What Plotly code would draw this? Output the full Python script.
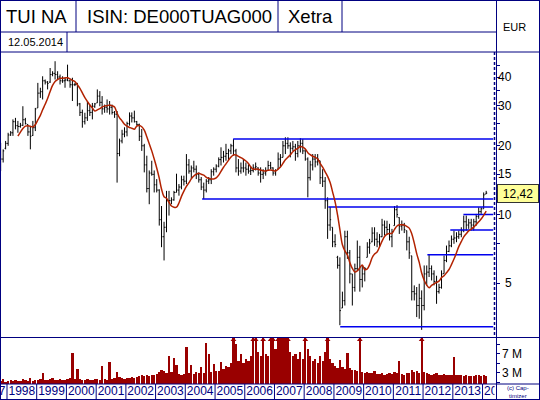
import math
import pandas as pd
import plotly.graph_objects as go

# ---------------- data (monthly bars, Oct 1997 .. Feb 2014) ----------------
FIRST_MONTH = "1997-10-01"

OPEN = [
    19.0, 17.5, 19.5,
    20.5, 22.3, 22.8, 25.5, 24.5, 24.3, 24.6, 26.0, 24.8, 23.0, 22.2, 24.0,
    29.3, 34.0, 34.5, 38.5, 38.0, 38.0, 41.0, 41.5, 41.0, 40.0, 38.5, 38.5,
    38.8, 38.5, 37.0, 37.0, 37.2, 30.5, 28.0, 25.5, 26.5, 28.5, 28.0, 29.8,
    30.8, 33.0, 31.0, 29.0, 29.5, 29.0, 29.5, 28.0, 27.5, 18.5, 21.0, 22.5,
    23.0, 25.0, 27.0, 26.5, 25.5, 24.8, 22.0, 20.0, 16.5, 13.0, 15.2, 15.0,
    13.5, 12.8, 9.5, 8.0, 8.8, 11.5, 11.5, 11.6, 12.5, 12.8, 13.2, 14.2,
    14.0, 16.5, 15.5, 16.0, 15.8, 15.0, 14.2, 13.2, 12.8, 14.0, 14.2, 15.4,
    15.8, 16.3, 17.4, 17.8, 18.0, 18.5, 19.0, 20.0, 19.0, 16.0, 15.5, 16.0,
    16.0, 15.8, 15.5, 15.6, 16.0, 16.0, 15.2, 15.0, 15.2, 15.6, 16.4, 16.0,
    15.2, 15.8, 17.5, 17.8, 20.0, 20.5, 20.0, 19.5, 19.8, 18.5, 20.0, 20.5,
    19.0, 17.5, 14.5, 16.5, 17.5, 17.0, 17.2, 14.5, 14.0, 11.5, 9.0, 8.8,
    7.6, 6.5, 6.0, 3.9, 4.2, 8.0, 6.8, 5.5, 4.8, 5.8, 6.5, 5.2,
    5.5, 6.5, 7.2, 7.6, 8.3, 7.8, 7.6, 8.0, 9.0, 8.8, 8.6, 8.0,
    8.95, 10.5, 9.7, 8.9, 9.0, 8.5, 7.6, 6.6, 4.6, 4.5, 4.0, 4.3,
    4.0, 5.5, 5.6, 5.8, 5.5, 5.1, 4.6, 4.8, 5.51, 6.3, 6.9, 7.3,
    7.8, 7.9, 8.0, 8.2, 8.5, 9.3, 9.0, 9.2, 9.0, 9.3, 9.8, 10.3,
    10.6, 12.3,
]
HIGH = [
    20.6, 19.3, 21.0,
    22.8, 23.2, 26.1, 26.5, 25.7, 25.2, 29.8, 26.5, 24.8, 24.4, 25.7, 29.3,
    37.7, 35.9, 40.3, 39.0, 38.4, 43.8, 42.4, 46.9, 42.4, 41.0, 40.3, 39.7,
    45.3, 39.0, 39.7, 37.7, 37.7, 30.8, 28.8, 27.9, 31.4, 30.3, 30.8, 30.8,
    35.3, 34.7, 33.0, 30.3, 31.9, 31.4, 30.3, 28.4, 28.4, 21.5, 23.5, 24.1,
    25.5, 28.0, 28.0, 28.5, 25.7, 25.0, 23.7, 20.4, 18.1, 15.6, 17.2, 15.6,
    14.3, 12.9, 10.9, 9.3, 12.7, 12.7, 11.9, 12.7, 15.1, 13.6, 14.8, 14.8,
    18.4, 17.5, 16.4, 17.2, 16.4, 15.3, 14.6, 13.8, 14.3, 14.6, 15.8, 16.1,
    16.6, 17.8, 19.7, 19.0, 20.4, 19.4, 20.4, 21.4, 19.4, 17.5, 16.9, 17.5,
    16.9, 16.6, 16.2, 16.6, 16.9, 16.1, 16.1, 15.8, 16.1, 17.2, 17.0, 16.1,
    15.8, 18.7, 18.4, 21.0, 21.8, 21.8, 20.7, 21.0, 20.4, 21.0, 21.6, 21.4,
    19.4, 17.8, 17.2, 18.4, 18.4, 18.4, 17.2, 15.8, 14.6, 11.9, 10.8, 8.8,
    8.2, 6.6, 6.5, 4.6, 8.5, 8.5, 7.0, 5.5, 6.1, 7.7, 7.3, 6.0,
    5.9, 7.57, 7.83, 8.8, 8.8, 8.37, 8.23, 9.58, 9.42, 9.4, 9.11, 8.66,
    10.9, 11.0, 9.73, 9.42, 9.2, 8.51, 8.0, 6.6, 4.9, 4.82, 4.98, 4.66,
    5.99, 5.99, 6.67, 5.99, 5.70, 5.4, 4.98, 5.70, 6.62, 7.32, 7.7, 8.1,
    8.5, 8.37, 8.51, 8.8, 9.9, 9.9, 9.58, 9.58, 9.58, 10.07, 10.76, 10.76,
    12.5, 12.7,
]
LOW = [
    15.5, 16.9, 19.3,
    20.0, 22.1, 22.1, 23.6, 22.8, 24.0, 24.4, 24.8, 22.1, 19.3, 22.1, 23.2,
    29.3, 32.4, 31.9, 37.1, 35.3, 37.7, 40.3, 39.0, 39.0, 37.1, 37.7, 35.9,
    38.4, 35.9, 31.4, 36.5, 29.8, 27.0, 24.0, 24.8, 25.7, 27.0, 26.1, 29.3,
    30.8, 29.8, 27.4, 27.9, 27.9, 27.4, 27.4, 26.5, 13.8, 18.0, 20.5, 21.8,
    22.0, 24.5, 25.3, 25.3, 24.5, 21.0, 19.0, 15.3, 12.5, 11.1, 14.8, 12.5,
    12.5, 8.95, 7.2, 6.3, 8.37, 9.9, 11.1, 11.5, 12.5, 12.1, 12.9, 13.4,
    13.6, 15.1, 14.3, 15.3, 14.3, 13.8, 12.8, 11.7, 12.5, 13.6, 13.6, 14.8,
    15.3, 16.1, 16.4, 16.9, 17.2, 17.2, 18.4, 18.1, 15.3, 14.8, 15.1, 15.3,
    14.8, 15.1, 14.9, 15.3, 15.6, 14.8, 13.8, 14.3, 14.8, 15.6, 15.8, 14.8,
    14.8, 15.8, 16.1, 17.8, 18.4, 19.4, 17.8, 19.0, 17.2, 17.8, 18.7, 18.4,
    17.2, 11.9, 14.1, 15.6, 16.1, 16.4, 13.6, 13.2, 10.6, 7.83, 8.5, 7.2,
    7.2, 5.8, 3.28, 3.9, 4.0, 6.4, 5.0, 4.0, 4.6, 5.7, 4.6, 4.8,
    5.1, 6.5, 6.74, 7.57, 7.3, 7.2, 7.2, 7.96, 8.1, 8.2, 7.7, 7.2,
    8.95, 9.7, 8.23, 8.51, 8.3, 6.97, 6.4, 4.21, 4.21, 3.56, 3.5, 3.13,
    3.81, 4.9, 5.33, 5.15, 4.9, 4.07, 4.51, 4.74, 5.51, 6.19, 6.85, 7.2,
    7.45, 7.57, 7.83, 7.96, 8.37, 8.5, 8.66, 8.51, 8.51, 8.95, 9.58, 10.07,
    10.6, 12.3,
]
CLOSE = [
    17.5, 19.0, 20.5,
    22.3, 22.8, 25.5, 24.5, 24.3, 24.6, 26.0, 25.0, 23.0, 22.0, 24.0, 29.0,
    34.0, 34.5, 38.5, 38.0, 37.5, 41.0, 41.5, 41.0, 40.0, 38.5, 38.5, 38.8,
    38.5, 37.0, 37.0, 37.2, 30.5, 28.0, 25.5, 26.5, 28.5, 28.0, 29.8, 30.5,
    33.0, 31.0, 29.0, 29.5, 29.0, 29.5, 28.0, 27.5, 18.5, 21.0, 22.5, 23.0,
    25.0, 27.0, 26.5, 25.5, 24.8, 22.0, 20.0, 16.5, 13.0, 15.2, 15.0, 13.5,
    12.8, 9.5, 8.0, 8.8, 11.5, 11.5, 11.6, 12.5, 12.8, 13.2, 14.2, 14.0,
    16.5, 15.5, 16.0, 15.8, 15.0, 14.2, 13.2, 12.8, 14.0, 14.2, 15.4, 15.8,
    16.3, 17.4, 17.8, 18.0, 18.5, 19.0, 20.0, 19.0, 16.0, 15.5, 16.0, 16.0,
    15.8, 15.5, 15.6, 16.0, 16.2, 15.2, 15.0, 15.2, 15.5, 16.4, 16.0, 15.2,
    15.6, 17.5, 17.8, 20.0, 20.5, 20.0, 19.5, 19.8, 18.5, 20.0, 20.5, 19.0,
    17.5, 14.5, 16.5, 17.5, 17.0, 17.5, 14.5, 14.0, 11.5, 9.0, 9.5, 7.6,
    7.4, 6.0, 3.8, 4.2, 8.0, 6.8, 5.5, 4.8, 5.8, 6.5, 5.2, 5.5,
    5.8, 7.2, 7.5, 8.3, 7.8, 7.6, 8.0, 9.0, 8.8, 8.6, 8.0, 8.4,
    10.5, 10.0, 8.9, 9.0, 8.6, 7.6, 6.8, 4.6, 4.5, 4.0, 4.3, 4.0,
    5.5, 5.6, 5.8, 5.5, 5.1, 4.6, 4.8, 5.5, 6.3, 6.9, 7.3, 7.8,
    7.9, 8.0, 8.2, 8.5, 9.3, 9.0, 9.2, 9.0, 9.3, 9.8, 10.3, 10.6,
    12.2, 12.42,
]
# volume in millions (12 = beyond the top of the panel)
VOLUME_M = [
    1.2, 1.6, 1.1, 1.3, 1.4, 1.2, 1.5, 1.3, 1.2, 1.6, 1.4, 1.3, 1.8, 1.3, 1.4,
    1.5, 1.6, 3.0, 1.5, 1.4, 1.6, 1.8, 1.5, 1.4, 1.6, 1.5, 1.5, 1.7, 1.8, 7.3,
    1.6, 3.8, 1.7, 1.5, 1.4, 1.6, 1.5, 1.4, 1.6, 1.7, 1.5, 4.4, 1.6, 1.5, 5.3,
    1.7, 1.8, 3.1, 2.0, 1.8, 1.7, 1.9, 1.8, 2.0, 1.9, 2.1, 2.3, 2.5, 2.2, 2.4,
    2.2, 2.6, 2.4, 2.8, 3.2, 3.6, 3.3, 3.0, 6.6, 3.2, 6.1, 4.6, 2.8, 2.6, 2.7,
    8.6, 3.0, 4.6, 2.8, 3.2, 2.9, 4.3, 3.0, 9.4, 7.0, 3.1, 4.9, 3.3, 3.4, 5.2,
    3.8, 4.5, 4.2, 5.0, 12, 9.1, 5.5, 7.0, 5.0, 6.0, 5.5, 6.5, 12, 12, 7.5,
    6.5, 12, 7.0, 6.5, 12, 12, 8.0, 12, 12, 12, 12, 12, 7.5, 6.5, 7.0,
    6.0, 7.5, 6.0, 12, 8.0, 6.5, 5.5, 6.0, 5.0, 6.5, 5.5, 7.5, 12, 6.0, 5.0,
    4.5, 4.0, 5.7, 4.2, 3.8, 7.3, 4.0, 3.6, 3.5, 3.4, 12, 3.2, 3.0, 3.2, 2.9,
    3.0, 3.4, 2.8, 2.7, 2.9, 2.6, 2.8, 3.0, 2.7, 3.1, 2.9, 5.4, 2.8, 2.6, 2.9,
    3.0, 3.6, 3.2, 3.4, 3.0, 12, 3.2, 2.9, 2.8, 2.6, 2.7, 2.9, 2.5, 2.6, 2.7,
    2.5, 2.6, 2.4, 6.4, 2.5, 2.4, 2.6, 2.3, 2.5, 2.3, 2.2, 2.3, 2.4, 2.6, 2.3, 2.5, 2.2,
]
MA_WINDOW = 8

LEVELS = [21.4, 11.7, 10.8, 10.0, 8.57, 6.67, 3.23]
LEVEL_START = ["2005-08-12", "2004-07-26", "2008-10-23", "2013-05-11",
               "2012-12-01", "2012-02-23", "2009-03-19"]
LEVEL_END = "2014-05-12"

PRICE_LABELS = [5, 10, 15, 20, 30, 40]
PRICE_TICKS = [5, 7.5, 10, 12, 15, 20, 25, 30, 35, 40, 45]
VOL_TICKS = [1, 3, 5, 7, 9]
VOL_LABELS = [3, 7]
YEARS = list(range(1997, 2015))
LAST_PRICE = 12.42

TITLE = "TUI NA"
ISIN = "ISIN: DE000TUAG000"
EXCHANGE = "Xetra"
DATE_TEXT = "12.05.2014"
CURRENCY = "EUR"

# ---------------- styling / geometry ----------------
W, H = 540, 400
NAVY = "#000080"
FONT = "Liberation Sans, Arial, sans-serif"
X_RANGE = ["1997-10-07", "2014-05-28"]


def px(x):
    return x / W


def py(y):
    return 1 - y / H


dates = pd.date_range(FIRST_MONTH, periods=len(CLOSE), freq="MS") + pd.Timedelta(days=14)
ma = pd.Series(CLOSE).rolling(MA_WINDOW).mean()
vol_top = 10.53

fig = go.Figure()

# volume
fig.add_trace(go.Bar(x=dates, y=VOLUME_M, marker=dict(color="#990000", line=dict(width=0)),
                     xaxis="x", yaxis="y2", hoverinfo="skip"))
over = [d for d, v in zip(dates, VOLUME_M) if v > vol_top]
fig.add_trace(go.Scatter(x=over, y=[10.05] * len(over), mode="markers",
                         marker=dict(symbol="triangle-up", size=5, color="#990000"),
                         xaxis="x", yaxis="y2", hoverinfo="skip"))

# horizontal levels
for lv, st in zip(LEVELS, LEVEL_START):
    fig.add_trace(go.Scatter(x=[st, LEVEL_END], y=[lv, lv], mode="lines",
                             line=dict(color="#0000ee", width=1.5),
                             xaxis="x", yaxis="y", hoverinfo="skip"))

# price bars
fig.add_trace(go.Ohlc(x=dates, open=OPEN, high=HIGH, low=LOW, close=CLOSE,
                      increasing=dict(line=dict(color="black", width=1)),
                      decreasing=dict(line=dict(color="black", width=1)),
                      tickwidth=0.45, xaxis="x", yaxis="y", hoverinfo="skip"))

# moving average
fig.add_trace(go.Scatter(x=dates, y=ma, mode="lines",
                         line=dict(color="#b22200", width=1.5, shape="spline"),
                         xaxis="x", yaxis="y", hoverinfo="skip"))

# year labels (clipped to the plot width)
fig.add_trace(go.Scatter(x=[f"{y}-07-02" for y in YEARS], y=[0.45] * len(YEARS),
                         mode="text", text=[str(y) for y in YEARS],
                         textfont=dict(family=FONT, size=12, color=NAVY),
                         xaxis="x", yaxis="y3", hoverinfo="skip", cliponaxis=True))

shapes = []


def hline(y, x0, x1, **kw):
    shapes.append(dict(type="line", xref="paper", yref="paper", x0=px(x0), x1=px(x1),
                       y0=py(y), y1=py(y), line=dict(color=NAVY, width=kw.get("w", 1),
                                                      dash=kw.get("dash", "solid"))))


def vline(x, y0, y1, **kw):
    shapes.append(dict(type="line", xref="paper", yref="paper", x0=px(x), x1=px(x),
                       y0=py(y0), y1=py(y1), line=dict(color=NAVY, width=kw.get("w", 1),
                                                       dash=kw.get("dash", "solid"))))


# outer frame and header grid
hline(0.5, 0, 540)
hline(399.5, 0, 540)
vline(0.5, 0, 400)
vline(539.5, 0, 400)
hline(32, 0, 496)
hline(52, 0, 540)
vline(76, 0, 32)
vline(278, 0, 32)
vline(342, 0, 32)
vline(67, 32, 52)
vline(496.5, 0, 400)
vline(494.5, 52, 337, dash="3px,2px", w=1.5)
hline(337.5, 0, 540)
hline(384, 0, 540)

# year dividers in the label strip
for y in YEARS[1:]:
    shapes.append(dict(type="line", xref="x", yref="paper", x0=f"{y}-01-01", x1=f"{y}-01-01",
                       y0=py(399), y1=py(384), line=dict(color=NAVY, width=1)))

ann = []
ann.append(dict(text=TITLE, x=px(4), y=py(16.5), font=dict(size=18.5)))
ann.append(dict(text=ISIN, x=px(85), y=py(16.5), font=dict(size=18.5)))
ann.append(dict(text=EXCHANGE, x=px(286), y=py(16.5), font=dict(size=18.5)))
ann.append(dict(text=DATE_TEXT, x=px(6), y=py(42), font=dict(size=11)))
for a in ann:
    a.update(xref="paper", yref="paper", xanchor="left", yanchor="middle", showarrow=False)
    a["font"].update(family=FONT, color="black")

ann.append(dict(text=CURRENCY, x=px(514), y=py(27), xref="paper", yref="paper",
                xanchor="center", yanchor="middle", showarrow=False,
                font=dict(family=FONT, size=11, color="black")))
for v in PRICE_LABELS:
    ann.append(dict(text=str(v), x=px(514), y=math.log10(v), xref="paper", yref="y",
                    xanchor="right", yanchor="middle", showarrow=False,
                    font=dict(family=FONT, size=12, color="black")))
for v in VOL_LABELS:
    ann.append(dict(text=f"{v} M", x=px(500), y=v, xref="paper", yref="y2",
                    xanchor="left", yanchor="middle", showarrow=False,
                    font=dict(family=FONT, size=12, color="black")))
ann.append(dict(text=f"{LAST_PRICE:.2f}".replace(".", ","), x=px(496.5),
                y=math.log10(LAST_PRICE), xref="paper", yref="y",
                xanchor="left", yanchor="middle", showarrow=False,
                bgcolor="#ffff99", bordercolor="#333333", borderwidth=1, borderpad=1,
                width=38, height=15, font=dict(family=FONT, size=12, color="black")))
ann.append(dict(text="(c) Cap-<br>timizer", x=px(518), y=py(391.5), xref="paper", yref="paper",
                xanchor="center", yanchor="middle", showarrow=False,
                font=dict(family=FONT, size=6, color=NAVY)))

fig.update_layout(
    width=W, height=H, margin=dict(l=0, r=0, t=0, b=0),
    paper_bgcolor="white", plot_bgcolor="white", showlegend=False,
    bargap=0,
    xaxis=dict(domain=[0, px(494.5)], range=X_RANGE, type="date", showgrid=False,
               showticklabels=False, ticks="", zeroline=False, showline=False,
               rangeslider=dict(visible=False), anchor="y3"),
    yaxis=dict(domain=[py(337.5), py(52)], type="log", range=[0.4621, 1.7115],
               side="right", anchor="x", showgrid=False, zeroline=False,
               showticklabels=False, ticks="outside", ticklen=4, tickcolor=NAVY,
               tickvals=PRICE_TICKS, showline=False),
    yaxis2=dict(domain=[py(384), py(337.5)], range=[0.578, vol_top], side="right",
                anchor="x", showgrid=False, zeroline=False, showticklabels=False,
                ticks="outside", ticklen=4, tickcolor=NAVY, tickvals=VOL_TICKS,
                showline=False),
    yaxis3=dict(domain=[py(399), py(384)], range=[0, 1], visible=False, anchor="x"),
    shapes=shapes, annotations=ann,
)

fig.write_html("out.html", config={"staticPlot": True},
               post_script="document.body.style.margin='0px';document.body.style.overflow='hidden';")
